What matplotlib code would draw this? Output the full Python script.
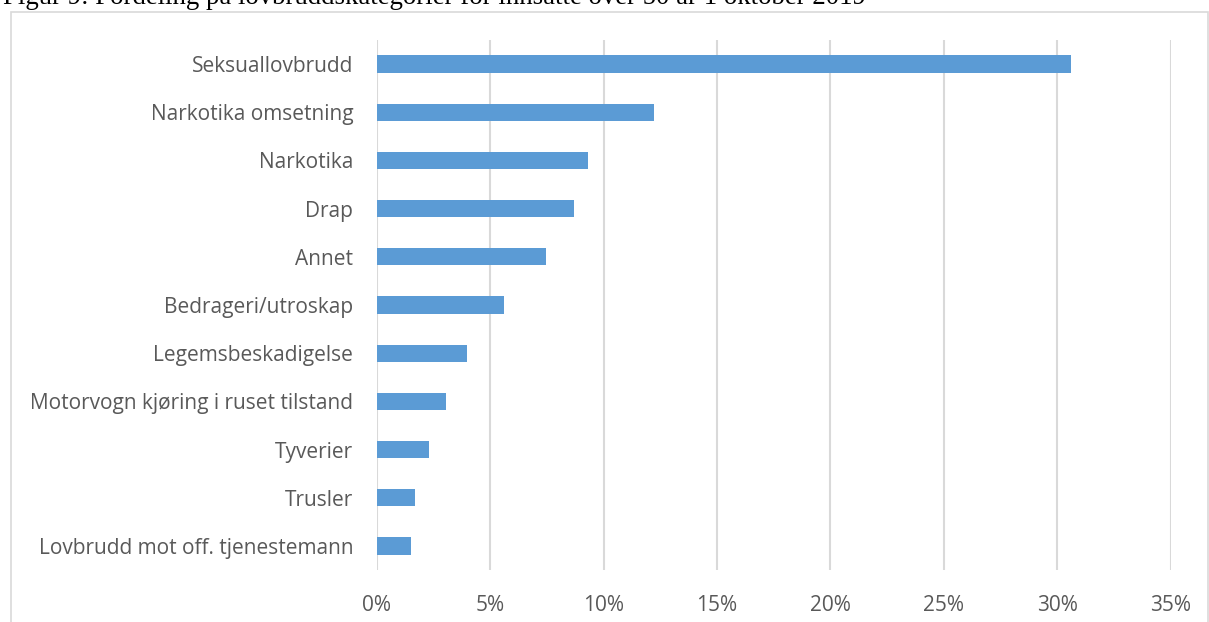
import matplotlib
matplotlib.use('Agg')
import matplotlib.pyplot as plt
from matplotlib.patches import Rectangle
from matplotlib.ticker import FuncFormatter

categories = [
    'Seksuallovbrudd',
    'Narkotika omsetning',
    'Narkotika',
    'Drap',
    'Annet',
    'Bedrageri/utroskap',
    'Legemsbeskadigelse',
    'Motorvogn kjøring i ruset tilstand',
    'Tyverier',
    'Trusler',
    'Lovbrudd mot off. tjenestemann',
]
shares = [30.6, 12.2, 9.3, 8.7, 7.45, 5.6, 3.95, 3.05, 2.3, 1.67, 1.52]
xticks = [0, 5, 10, 15, 20, 25, 30, 35]

title = 'Figur 9: Fordeling på lovbruddskategorier for innsatte over 50 år 1 oktober 2019'

fig = plt.figure(figsize=(12.09, 6.22), dpi=100)
ax = fig.add_axes([0.3118, 0.0836, 0.6564, 0.8521])

y = list(range(len(categories)))
ax.barh(y, shares, height=0.36, color='#5B9BD5', zorder=3)
ax.set_ylim(len(categories) - 0.5, -0.5)
ax.set_yticks(y)
ax.set_yticklabels(categories)

ax.set_xlim(0, 35)
ax.set_xticks(xticks)
ax.xaxis.set_major_formatter(FuncFormatter(lambda v, p: f'{v:.0f}%'))
ax.grid(axis='x', color='#D9D9D9', linewidth=1.5, zorder=0)
for s in ax.spines.values():
    s.set_visible(False)
ax.tick_params(axis='both', length=0, labelsize=15, labelcolor='#595959')
ax.tick_params(axis='y', pad=17)
ax.tick_params(axis='x', pad=18)
for lbl in ax.get_xticklabels() + ax.get_yticklabels():
    lbl.set_family('Open Sans')

# chart area border, runs off the bottom and right edges
fig.patches.append(Rectangle((10.5 / 1209, -0.05), 1197.5 / 1209, 1 - 11.5 / 622 + 0.05,
                             transform=fig.transFigure, fill=False,
                             edgecolor='#D9D9D9', linewidth=1.2))

# caption sits partly above the top edge
fig.text(3 / 1209, 1 - 3.5 / 622, title, family='Liberation Serif', fontsize=19.3,
         ha='left', va='baseline', color='black')

fig.savefig('out.png', dpi=100)
